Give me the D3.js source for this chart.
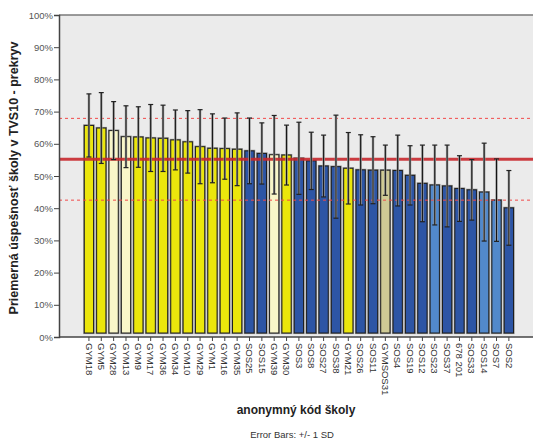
<!DOCTYPE html>
<html>
<head>
<meta charset="utf-8">
<script src="https://d3js.org/d3.v7.min.js"></script>
<style>
  body { margin: 0; background: #fff; }
  text { font-family: "Liberation Sans", Arial, sans-serif; }
</style>
</head>
<body>
<script>
  // school codes, in plotted order
  var schools = ["GYM18", "GYM5", "GYM28", "GYM13", "GYM9", "GYM17", "GYM36", "GYM34",
    "GYM10", "GYM29", "GYM1", "GYM16", "GYM35", "SOS25", "SOS15", "GYM39", "GYM30",
    "SOS3", "SOS8", "SOS27", "SOS38", "GYM21", "SOS26", "SOS11", "GYMSOS31", "SOS4",
    "SOS19", "SOS12", "SOS23", "SOS37", "678 201", "SOS33", "SOS14", "SOS7", "SOS2"];

  // mean success (%) per school
  var means = [65.7, 64.9, 64.1, 62.2, 62.1, 61.8, 61.7, 61.2, 60.6, 59.1, 58.6, 58.5,
    58.3, 57.8, 57.0, 56.6, 56.5, 55.5, 54.7, 53.1, 52.9, 52.4, 51.9, 51.8, 51.8, 51.7,
    50.2, 47.7, 47.2, 46.9, 46.1, 45.7, 45.0, 42.5, 40.1];

  // +/- 1 SD (%)
  var sds = [9.8, 11.0, 9.0, 9.6, 9.4, 10.4, 10.3, 9.3, 9.7, 11.5, 10.7, 9.5, 11.3,
    10.2, 9.5, 12.2, 9.3, 11.2, 8.9, 9.6, 16.0, 11.1, 10.9, 10.4, 7.8, 11.0, 9.2,
    11.9, 12.4, 12.7, 10.2, 9.4, 15.2, 12.8, 11.6];

  // school type, decides bar colour
  var types = ["g", "g", "p", "p", "g", "g", "g", "g", "g", "g", "g", "g", "g", "s", "s",
    "p", "g", "s", "s", "s", "s", "g", "s", "s", "k", "s", "s", "s", "l", "s", "s", "s",
    "l", "l", "s"];

  // overall mean and +/- 1 SD reference lines
  var overallMean = 55.2;
  var overallBand = [42.5, 67.9];

  var yTicks = [0, 10, 20, 30, 40, 50, 60, 70, 80, 90, 100];

  var colors = { g: "#ebe60c", p: "#f9f6c9", s: "#2d55a5", l: "#5289cb", k: "#cfca95" };

  var W = 535, H = 441;
  var plot = { left: 59, right: 533, top: 15, bottom: 337 };

  var svg = d3.select("body").append("svg")
    .attr("width", W)
    .attr("height", H);

  var y = d3.scaleLinear().domain([0, 100]).range([plot.bottom, plot.top]);
  var x = d3.scaleBand()
    .domain(schools)
    .range([84.3, 513.5])
    .paddingInner(0.25)
    .paddingOuter(0);

  // background
  svg.append("rect")
    .attr("x", plot.left).attr("y", plot.top)
    .attr("width", plot.right - plot.left)
    .attr("height", plot.bottom - plot.top)
    .attr("fill", "#ebebeb");

  svg.append("line")
    .attr("x1", plot.left).attr("x2", plot.right)
    .attr("y1", plot.top).attr("y2", plot.top)
    .attr("stroke", "#7a7a7a").attr("stroke-width", 1.5);

  var rows = schools.map(function(s, i){
    return { name: s, mean: means[i], sd: sds[i], type: types[i] };
  });

  // bars (SPSS leaves a small gap above the axis)
  var gap = 4;
  svg.selectAll("rect.bar")
    .data(rows)
    .enter()
    .append("rect")
    .attr("class", "bar")
    .attr("x", function(d){ return x(d.name); })
    .attr("width", x.bandwidth())
    .attr("y", function(d){ return y(d.mean); })
    .attr("height", function(d){ return y(0) - gap - y(d.mean); })
    .attr("fill", function(d){ return colors[d.type]; })
    .attr("stroke", "#8c8c8c")
    .attr("stroke-width", 2.2);

  svg.selectAll("rect.barEdge")
    .data(rows)
    .enter()
    .append("rect")
    .attr("x", function(d){ return x(d.name); })
    .attr("width", x.bandwidth())
    .attr("y", function(d){ return y(d.mean); })
    .attr("height", function(d){ return y(0) - gap - y(d.mean); })
    .attr("fill", function(d){ return colors[d.type]; })
    .attr("stroke", "#1e1e1e")
    .attr("stroke-width", 1);

  // reference lines
  svg.selectAll("line.band")
    .data(overallBand)
    .enter()
    .append("line")
    .attr("x1", plot.left).attr("x2", plot.right)
    .attr("y1", function(d){ return y(d); })
    .attr("y2", function(d){ return y(d); })
    .attr("stroke", "#f24a4a")
    .attr("stroke-width", 1)
    .attr("stroke-dasharray", "3,3");

  svg.append("line")
    .attr("x1", plot.left).attr("x2", plot.right)
    .attr("y1", y(overallMean)).attr("y2", y(overallMean))
    .attr("stroke", "#c8282d")
    .attr("stroke-opacity", 0.9)
    .attr("stroke-width", 3);

  // error bars
  var eb = svg.selectAll("g.err")
    .data(rows)
    .enter()
    .append("g")
    .attr("transform", function(d){ return "translate(" + (x(d.name) + x.bandwidth() / 2) + ",0)"; });

  eb.append("line")
    .attr("y1", function(d){ return y(d.mean + d.sd); })
    .attr("y2", function(d){ return y(d.mean - d.sd); })
    .attr("stroke", "#9a9a9a").attr("stroke-width", 2.4);
  eb.append("line")
    .attr("y1", function(d){ return y(d.mean + d.sd); })
    .attr("y2", function(d){ return y(d.mean - d.sd); })
    .attr("stroke", "#111").attr("stroke-width", 1);
  eb.selectAll("line.cap")
    .data(function(d){ return [d.mean + d.sd, d.mean - d.sd]; })
    .enter()
    .append("line")
    .attr("x1", -2.5).attr("x2", 2.5)
    .attr("y1", function(v){ return y(v); })
    .attr("y2", function(v){ return y(v); })
    .attr("stroke", "#222").attr("stroke-width", 1.2);

  // y axis
  var yAxis = svg.append("g")
    .attr("transform", "translate(" + plot.left + ",0)")
    .call(d3.axisLeft(y).tickValues(yTicks).tickSize(5).tickFormat(function(d){ return d + "%"; }));
  yAxis.select(".domain").attr("stroke", "#444").attr("stroke-width", 1.5);
  yAxis.selectAll(".tick line").attr("stroke", "#444");
  yAxis.selectAll("text")
    .attr("fill", "#555")
    .attr("font-size", 9.5)
    .attr("x", -6);

  // x axis
  var xAxis = svg.append("g")
    .attr("transform", "translate(0," + plot.bottom + ")")
    .call(d3.axisBottom(x).tickSize(4));
  xAxis.select(".domain").remove();
  xAxis.append("line")
    .attr("x1", plot.left).attr("x2", plot.right)
    .attr("stroke", "#444").attr("stroke-width", 1.5);
  xAxis.selectAll(".tick line").attr("stroke", "#444");
  xAxis.selectAll(".tick text")
    .attr("fill", "#333")
    .attr("font-size", 9.5)
    .attr("transform", "rotate(90)")
    .attr("x", 6)
    .attr("y", 0)
    .attr("dy", "0.35em")
    .attr("text-anchor", "start");

  // titles
  svg.append("text")
    .attr("transform", "translate(18," + ((plot.top + plot.bottom) / 2 + 2) + ") rotate(-90)")
    .attr("text-anchor", "middle")
    .attr("font-size", 12.5)
    .attr("font-weight", "bold")
    .attr("fill", "#222")
    .text("Priemerná úspešnosť školy v  TVS10 - prekryv");

  svg.append("text")
    .attr("x", 296).attr("y", 414)
    .attr("text-anchor", "middle")
    .attr("font-size", 12)
    .attr("font-weight", "bold")
    .attr("fill", "#222")
    .text("anonymný kód školy");

  svg.append("text")
    .attr("x", 292).attr("y", 438)
    .attr("text-anchor", "middle")
    .attr("font-size", 9.5)
    .attr("fill", "#333")
    .text("Error Bars: +/- 1 SD");
</script>
</body>
</html>
